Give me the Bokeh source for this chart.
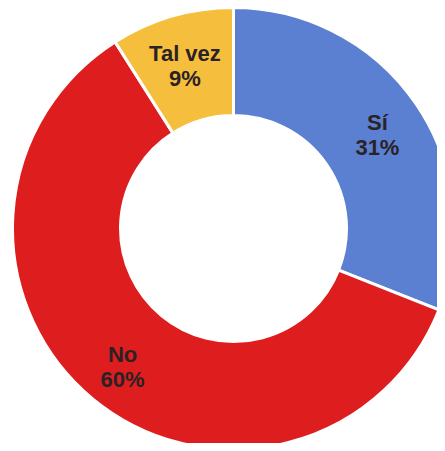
import math
from bokeh.plotting import figure
from bokeh.models import Range1d, ColumnDataSource
from bokeh.core.properties import value
from bokeh.embed import file_html
from bokeh.resources import INLINE

categories = ["Sí", "No", "Tal vez"]
values = [31, 60, 9]
labels = ["31%", "60%", "9%"]
colors = ["#5B80D2", "#DE1E1E", "#F5BE3C"]

W, H = 437, 443
p = figure(width=W, height=H, output_backend="svg", toolbar_location=None,
           x_range=Range1d(0, W), y_range=Range1d(-H, 0),
           min_border=0, outline_line_color=None)
p.axis.visible = False
p.grid.visible = False
p.background_fill_color = "white"
p.border_fill_color = "white"

cx, cy = 233, -228
r_in, r_out = 113, 221
total = sum(values)
starts, ends, lx, ly = [], [], [], []
cum = 0
for v in values:
    a0 = math.pi / 2 - 2 * math.pi * cum / total
    a1 = math.pi / 2 - 2 * math.pi * (cum + v) / total
    starts.append(a0)
    ends.append(a1)
    mid = (a0 + a1) / 2
    rl = 174
    lx.append(cx + rl * math.cos(mid))
    ly.append(cy + rl * math.sin(mid))
    cum += v

src = ColumnDataSource(dict(cat=categories, lab=labels, color=colors,
                            start=starts, end=ends, lx=lx, ly=ly))
p.annular_wedge(x=cx, y=cy, inner_radius=r_in, outer_radius=r_out,
                start_angle="start", end_angle="end", direction="clock",
                fill_color="color", line_color="white", line_width=3, source=src)
p.text(x="lx", y="ly", text="cat", source=src, text_align="center",
       text_baseline="middle", y_offset=-8, text_font=value("Liberation Sans"),
       text_font_style="bold", text_font_size="22px", text_color="#2a2226")
p.text(x="lx", y="ly", text="lab", source=src, text_align="center",
       text_baseline="middle", y_offset=17, text_font=value("Liberation Sans"),
       text_font_style="bold", text_font_size="22px", text_color="#2a2226")

open("out.html", "w").write(file_html(p, INLINE))
